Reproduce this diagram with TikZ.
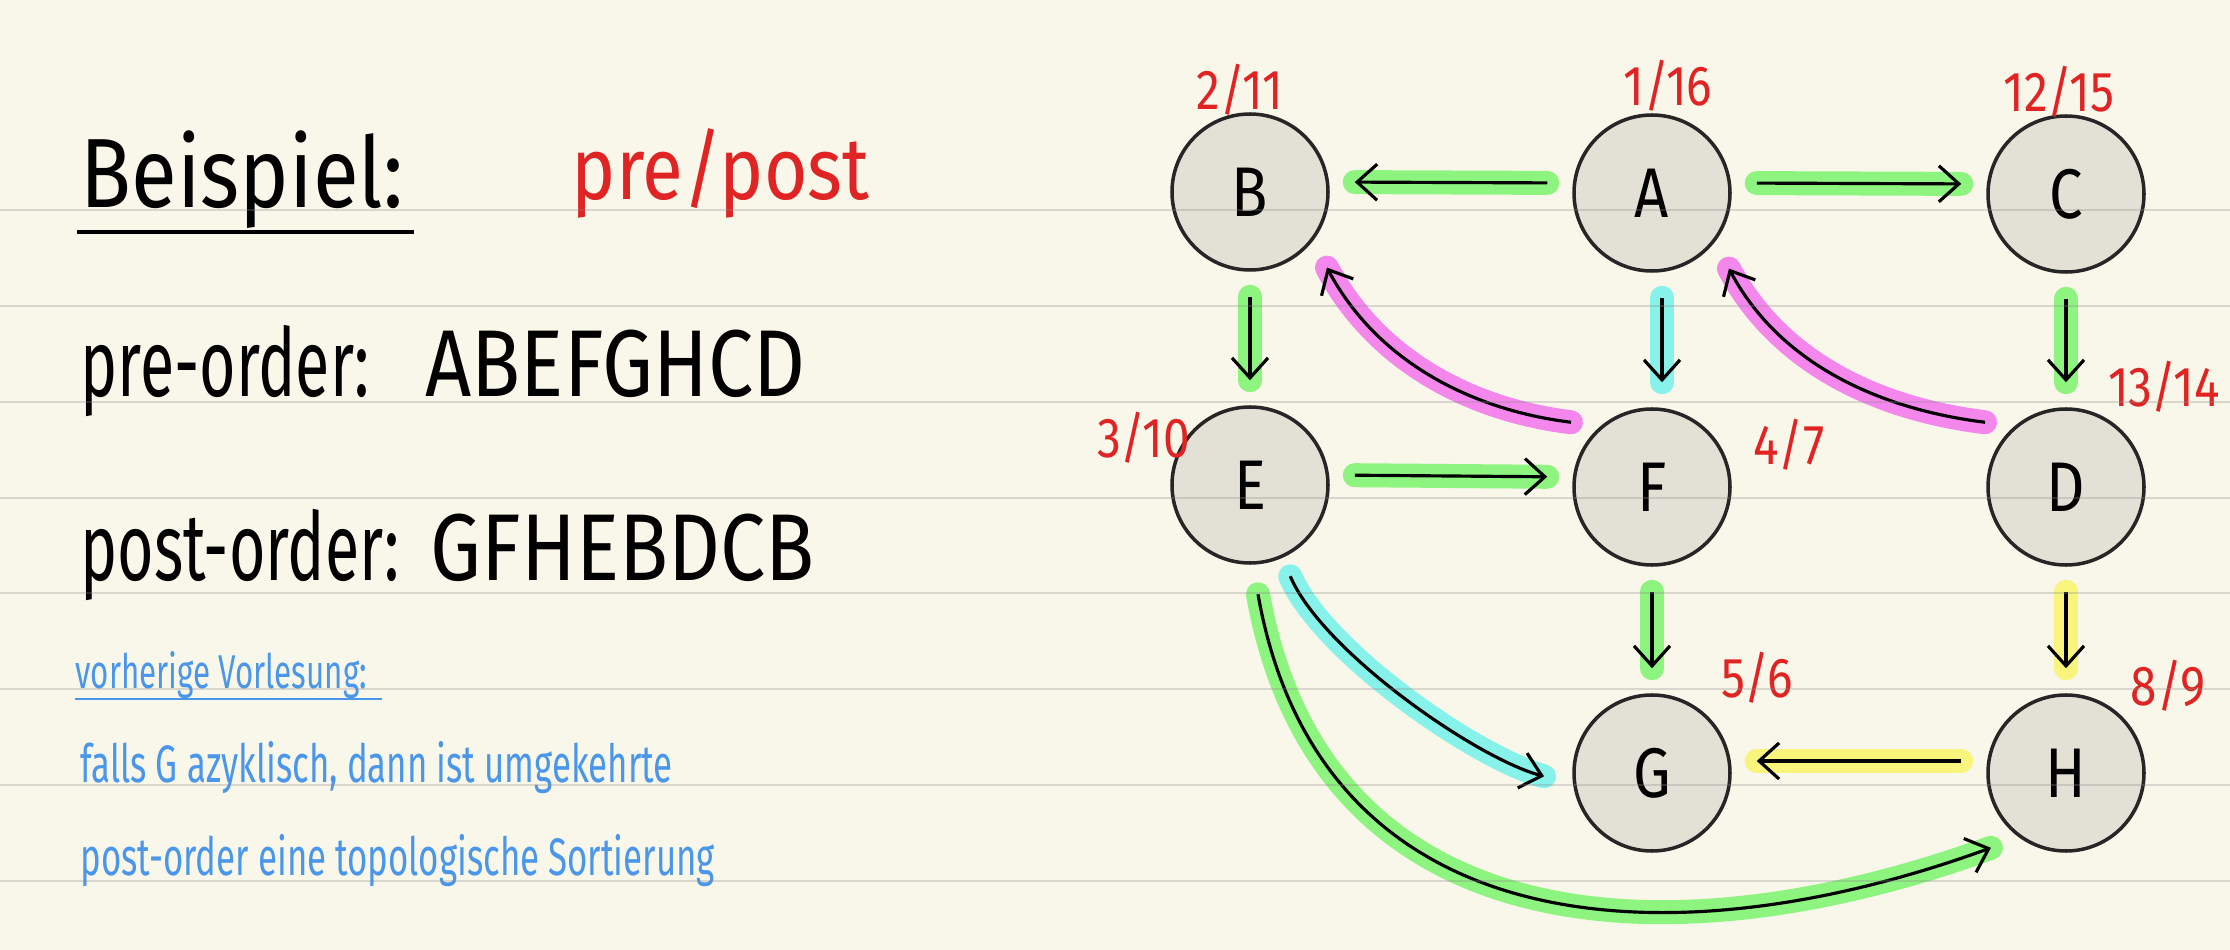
\documentclass[tikz,border=0pt]{standalone}
\usepackage{fontspec}
\setmainfont{Fira Sans}
\newfontfamily\handnarrow[FakeStretch=0.66]{Fira Sans}
\newfontfamily\handwide[FakeStretch=0.85]{Fira Sans}
\usetikzlibrary{arrows.meta}
\definecolor{paper}{HTML}{F9F7EA}
\definecolor{vertexfill}{HTML}{E3E1D6}
\definecolor{hlgreen}{HTML}{8DF47F}
\definecolor{hlcyan}{HTML}{86F2E9}
\definecolor{hlpink}{HTML}{F487EC}
\definecolor{hlyellow}{HTML}{F8F47C}
\definecolor{numred}{HTML}{E02424}
\definecolor{noteblue}{HTML}{4A96EA}

\begin{document}
\begin{tikzpicture}[
    vertex/.style={circle, draw=black!85, line width=1pt, fill=vertexfill, minimum size=1.56cm, inner sep=0pt, font=\handwide\fontsize{20}{20}\selectfont},
    link/.style={line width=0.9pt, -{Straight Barb[length=2mm,width=3.6mm]}, shorten >=0.25cm, shorten <=0.25cm},
    hl/.style={preaction={draw=#1, line width=2.4mm, line cap=round, -}},
    numlabel/.style={text=numred, font=\handwide\fontsize{16}{16}\selectfont},
    headline/.style={anchor=base west, inner sep=0pt, font=\handwide\fontsize{28}{28}\selectfont},
    bigtext/.style={anchor=base west, inner sep=0pt, font=\handnarrow\fontsize{27}{27}\selectfont},
    biglist/.style={anchor=base west, inner sep=0pt, font=\handwide\fontsize{27}{27}\selectfont},
    note/.style={anchor=base west, inner sep=0pt, text=noteblue, font=\handnarrow\fontsize{15}{15}\selectfont},
    ruleline/.style={draw=black!45, opacity=0.3, line width=0.8pt}
]
\useasboundingbox (0,0) rectangle (22.3,-9.5);
\fill[paper] (0,0) rectangle (22.3,-9.5);

\node[headline] (title) at (0.80,-2.08) {Beispiel:};
\draw[line width=1.3pt] (0.77,-2.32) -- (4.14,-2.32);
\node[headline, text=numred, font=\handwide\fontsize{25}{25}\selectfont] (prepost) at (5.71,-2.00) {pre/post};
\node[bigtext] (preorder) at (0.80,-3.97) {pre-order:};
\node[biglist] (prelist) at (4.25,-3.97) {ABEFGHCD};
\node[bigtext] (postorder) at (0.80,-5.80) {post-order:};
\node[biglist] (postlist) at (4.30,-5.80) {GFHEBDCB};
\node[note, font=\handnarrow\fontsize{13.5}{13.5}\selectfont] (notehead) at (0.75,-6.88) {vorherige Vorlesung:};
\draw[noteblue, line width=0.8pt] (0.75,-6.99) -- (3.82,-6.99);
\node[note] (noteone) at (0.80,-7.82) {falls G azyklisch, dann ist umgekehrte};
\node[note] (notetwo) at (0.80,-8.75) {post-order eine topologische Sortierung};

\node[vertex] (B) at (12.50,-1.92) {B};
\node[vertex] (A) at (16.52,-1.93) {A};
\node[vertex] (C) at (20.66,-1.94) {C};
\node[vertex] (E) at (12.50,-4.85) {E};
\node[vertex] (F) at (16.52,-4.87) {F};
\node[vertex] (D) at (20.66,-4.87) {D};
\node[vertex] (G) at (16.52,-7.73) {G};
\node[vertex] (H) at (20.66,-7.73) {H};

\node[numlabel] (numB) at (12.40,-0.90) {2/11};
\node[numlabel] (numA) at (16.68,-0.86) {1/16};
\node[numlabel] (numC) at (20.59,-0.92) {12/15};
\node[numlabel] (numE) at (11.44,-4.38) {3/10};
\node[numlabel] (numF) at (17.89,-4.45) {4/7};
\node[numlabel] (numD) at (21.64,-3.87) {13/14};
\node[numlabel] (numG) at (17.57,-6.78) {5/6};
\node[numlabel] (numH) at (21.68,-6.86) {8/9};

\draw[link, hl=hlgreen] ([yshift=1mm]A.west) -- ([yshift=1mm]B.east);
\draw[link, hl=hlgreen] ([yshift=1mm]A.east) -- ([yshift=1mm]C.west);
\draw[link, hl=hlgreen] (B) -- (E);
\draw[link, hl=hlcyan] ([xshift=1mm]A.south) -- ([xshift=1mm]F.north);
\draw[link, hl=hlgreen] (C) -- (D);
\draw[link, hl=hlgreen] ([yshift=1mm]E.east) -- ([yshift=1mm]F.west);
\draw[link, hl=hlpink, shorten <=0.3cm, shorten >=0.3cm] (F.130) to[out=173, in=-62] (B.-38);
\draw[link, hl=hlpink, shorten <=0.3cm, shorten >=0.3cm] (D.130) to[out=173, in=-62] (A.-38);
\draw[link, hl=hlgreen] (F) -- (G);
\draw[link, hl=hlyellow] (D) -- (H);
\draw[link, hl=hlyellow] ([yshift=1.2mm]H.west) -- ([yshift=1.2mm]G.east);
\draw[link, hl=hlcyan, shorten <=0.2cm, shorten >=0.3cm] (E.-66) to[out=-67, in=165, looseness=0.7] (G.188);
\draw[link, hl=hlgreen, shorten <=0.3cm, shorten >=0.3cm] (E.-88) to[out=-80, in=200, looseness=1.2] (H.234);

\foreach \y in {2.10,3.06,4.02,4.98,5.93,6.89,7.85,8.81}
  \draw[ruleline] (0,-\y) -- (22.3,-\y);
\end{tikzpicture}
\end{document}
